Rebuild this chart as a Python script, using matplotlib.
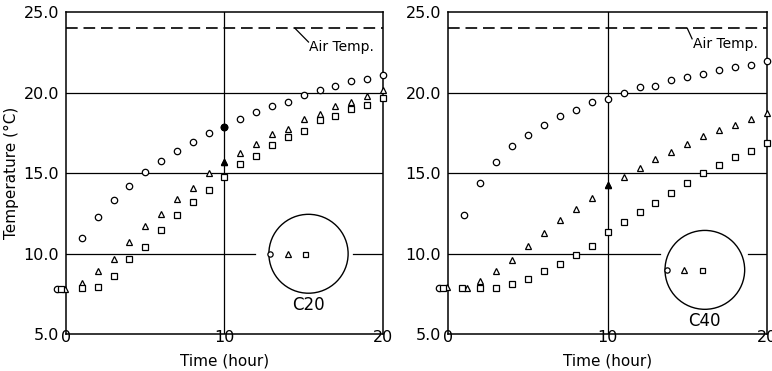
import numpy as np
import matplotlib.pyplot as plt
from matplotlib.patches import Ellipse

# hours of heating
hours = list(range(0, 21))

# C20 cylinder: centre (circle), middle (triangle), near surface (square)
c20_circle = [7.8, 11.0, 12.3, 13.35, 14.2, 15.1, 15.75, 16.4, 16.95, 17.5, 17.9,
              18.4, 18.8, 19.2, 19.45, 19.85, 20.15, 20.4, 20.7, 20.85, 21.1]
c20_triangle = [7.8, 8.2, 8.9, 9.7, 10.7, 11.7, 12.5, 13.4, 14.1, 15.0, 15.7,
                16.25, 16.8, 17.45, 17.75, 18.4, 18.7, 19.2, 19.45, 19.8, 20.15]
c20_square = [7.8, 7.85, 7.95, 8.6, 9.65, 10.4, 11.5, 12.4, 13.2, 13.95, 14.75,
              15.6, 16.1, 16.75, 17.25, 17.65, 18.3, 18.55, 19.0, 19.25, 19.7]

# C40 cylinder
c40_circle = [7.9, 12.4, 14.4, 15.7, 16.7, 17.35, 18.0, 18.55, 18.95, 19.4, 19.6,
              20.0, 20.33, 20.45, 20.8, 21.0, 21.15, 21.4, 21.6, 21.7, 21.95]
c40_triangle = [7.95, 7.9, 8.3, 8.9, 9.6, 10.5, 11.3, 12.1, 12.8, 13.45, 14.3,
                14.75, 15.3, 15.9, 16.3, 16.8, 17.3, 17.7, 18.0, 18.4, 18.75]
c40_square = [7.9, 7.85, 7.85, 7.9, 8.1, 8.45, 8.9, 9.35, 9.9, 10.5, 11.35,
              11.95, 12.6, 13.15, 13.75, 14.4, 15.0, 15.5, 16.0, 16.4, 16.9]

air_temp = 24.0

y_ticks = [5.0, 10.0, 15.0, 20.0, 25.0]
y_ticklabels = ["5.0", "10.0", "15.0", "20.0", "25.0"]
x_ticks = [0, 10, 20]
x_ticklabels = ["0", "10", "20"]

plt.rcParams['font.family'] = 'DejaVu Sans'

fig = plt.figure(figsize=(7.72, 3.71), dpi=100)
ax1 = fig.add_axes([0.0855, 0.099, 0.4106, 0.868])
ax2 = fig.add_axes([0.5807, 0.099, 0.4128, 0.868])


def draw_panel(ax, circ, tri, sq, t0_shift, t1_shift, name, inset, gap, leader):
    ax.set_xlim(0, 20)
    ax.set_ylim(5, 25)

    # grid lines
    ax.axhline(20, color='k', lw=0.9)
    ax.axhline(15, color='k', lw=0.9)
    ax.plot([0, gap[0]], [10, 10], color='k', lw=0.9)
    ax.plot([gap[1], 20], [10, 10], color='k', lw=0.9)
    ax.axvline(10, color='k', lw=0.9)

    # air temperature
    ax.axhline(air_temp, color='k', lw=1.2, linestyle=(0, (7, 3.5)))
    ax.plot([leader[0], leader[1]], [air_temp, leader[2] + 0.3], color='k', lw=0.9)
    ax.text(leader[1] + 0.05, leader[2], 'Air Temp.', fontsize=10, va='center', ha='left')

    t = np.array(hours, dtype=float)
    tc = t.copy()
    tt = t.copy()
    ts = t.copy()
    tc[0] += t0_shift[0]
    ts[0] += t0_shift[1]
    tt[0] += t0_shift[2]
    ts[1] += t1_shift[0]
    tt[1] += t1_shift[1]

    kw = dict(linestyle='none', color='k', mfc='white', mew=0.9, clip_on=False, zorder=3)
    ax.plot(tc, circ, marker='o', ms=4.6, **kw)
    ax.plot(tt, tri, marker='^', ms=4.6, **kw)
    ax.plot(ts, sq, marker='s', ms=3.9, **kw)
    # points at t = 10 sit on the vertical line
    kf = dict(linestyle='none', color='k', mfc='k', zorder=4)
    ax.plot([10], [tri[10]], marker='^', ms=5, **kf)
    if name == 'C20':
        ax.plot([10], [circ[10]], marker='o', ms=4.6, **kf)

    # cross-section sketch
    cx, cy = inset
    ax.add_patch(Ellipse((cx, cy), 5.0, 4.9, fill=False, color='k', lw=1.0, zorder=2))
    ax.plot([cx - 2.4], [cy], marker='o', ms=3.8, **kw)
    ax.plot([cx - 1.3], [cy], marker='^', ms=4.2, **kw)
    ax.plot([cx - 0.2], [cy], marker='s', ms=3.6, **kw)
    ax.text(cx, cy - 3.2, name, ha='center', va='center', fontsize=12)

    for s in ax.spines.values():
        s.set_linewidth(1.1)
    ax.set_yticks(y_ticks)
    ax.set_yticklabels(y_ticklabels)
    ax.set_xticks(x_ticks)
    ax.set_xticklabels(x_ticklabels)
    ax.tick_params(length=0, labelsize=11.5)
    ax.tick_params(axis='y', pad=5)
    ax.tick_params(axis='x', pad=-3)
    ax.set_xlabel('Time (hour)', fontsize=11, labelpad=6)


draw_panel(ax1, c20_circle, c20_triangle, c20_square,
           (-0.55, -0.3, -0.05), (0.0, 0.0), 'C20', (15.3, 10.0), (11.9, 18.1),
           (14.45, 15.3, 22.85))
draw_panel(ax2, c40_circle, c40_triangle, c40_square,
           (-0.6, -0.35, -0.1), (-0.15, 0.15), 'C40', (16.1, 9.0), (13.3, 18.8),
           (15.0, 15.3, 23.05))

ax1.set_ylabel('Temperature (°C)', fontsize=11, labelpad=3)

fig.savefig('out.png', dpi=100)
